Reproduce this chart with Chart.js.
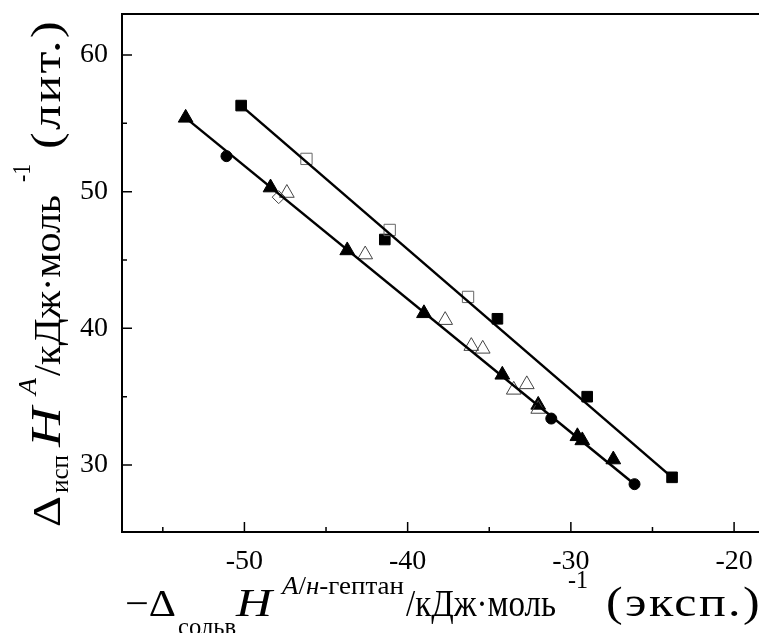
<!DOCTYPE html>
<html>
<head>
<meta charset="utf-8">
<script src="https://cdn.jsdelivr.net/npm/chart.js@4.4.1/dist/chart.umd.min.js"></script>
<style>
  html, body { margin: 0; padding: 0; background: #fff; overflow: hidden; }
  #wrap { width: 790px; height: 633px; position: relative; }
</style>
</head>
<body>
<div id="wrap"><canvas id="chart"></canvas></div>
<script>
/* global Chart */

// filled squares
const sqFilledX = [-50.2, -41.4, -34.5, -29.0, -23.8];
const sqFilledY = [56.3, 46.5, 40.7, 35.0, 29.1];
// open squares
const sqOpenX = [-46.2, -41.1, -36.3];
const sqOpenY = [52.4, 47.2, 42.3];
// filled triangles
const triFilledX = [-53.6, -48.4, -43.7, -39.0, -34.2, -32.0, -29.6, -29.3, -27.4];
const triFilledY = [55.4, 50.3, 45.7, 41.1, 36.6, 34.4, 32.1, 31.8, 30.4];
// open triangles
const triOpenX = [-47.4, -42.6, -37.7, -36.1, -35.4, -33.5, -32.7, -32.0];
const triOpenY = [49.9, 45.4, 40.6, 38.7, 38.5, 35.5, 35.9, 34.1];
// filled circles
const circX = [-51.1, -31.2, -26.1];
const circY = [52.6, 33.4, 28.6];
// open diamonds
const diaX = [-47.9];
const diaY = [49.6];
// fitted lines, end points
const lineAX = [-50.2, -23.8];
const lineAY = [56.3, 29.1];
const lineBX = [-53.6, -26.1];
const lineBY = [55.4, 28.6];

const xTicks = [-50, -40, -30, -20];
const xMinor = [-55, -45, -35, -25];
const yTicks = [30, 40, 50, 60];
const yMinor = [35, 45, 55];

function pts(xs, ys) {
  return xs.map((x, i) => ({ x: x, y: ys[i] }));
}

const SERIF = '"Liberation Serif", "Times New Roman", serif';
const f = (px, it) => (it ? 'italic ' : '') + px + 'px ' + SERIF;

// axis titles: pieces of text, each fitted into its own span
const xTitle = [
  { x: 125, w: 51, runs: [{ text: '−Δ', font: f(38), dy: 0 }] },
  { x: 178, w: 58, runs: [{ text: 'сольв', font: f(26), dy: 19 }] },
  { x: 236, w: 36, runs: [{ text: 'H', font: f(40, true), dy: 0 }] },
  { x: 282, w: 122, runs: [
    { text: 'A', font: f(26, true), dy: -22 },
    { text: '/', font: f(26), dy: -22 },
    { text: 'н', font: f(26, true), dy: -22 },
    { text: '-гептан', font: f(26), dy: -22 },
  ] },
  { x: 406, w: 150, runs: [{ text: '/кДж·моль', font: f(37), dy: 0 }] },
  { x: 568, w: 20, runs: [{ text: '-1', font: f(26), dy: -28 }] },
  { x: 606, w: 156, runs: [{ text: '(эксп.)', font: f(42), dy: 0, ls: '2px' }] },
];

const yTitle = [
  { x: 0, w: 31, runs: [{ text: 'Δ', font: f(40), dy: 0 }] },
  { x: 34, w: 38, runs: [{ text: 'исп', font: f(26), dy: 8 }] },
  { x: 80, w: 40, runs: [{ text: 'H', font: f(42, true), dy: 0 }] },
  { x: 132, w: 17, runs: [{ text: 'A', font: f(26, true), dy: -24 }] },
  { x: 151, w: 181, runs: [{ text: '/кДж·моль', font: f(38), dy: 0 }] },
  { x: 345, w: 18, runs: [{ text: '-1', font: f(26), dy: -30 }] },
  { x: 378, w: 130, runs: [{ text: '(лит.)', font: f(42), dy: 0, ls: '2px' }] },
];

function drawTitle(ctx, segs) {
  segs.forEach(seg => {
    let total = 0;
    seg.runs.forEach(r => {
      ctx.font = r.font;
      ctx.letterSpacing = r.ls || '0px';
      r.w = ctx.measureText(r.text).width;
      total += r.w;
    });
    ctx.save();
    ctx.translate(seg.x, 0);
    ctx.scale(seg.w / total, 1);
    let cx = 0;
    seg.runs.forEach(r => {
      ctx.font = r.font;
      ctx.letterSpacing = r.ls || '0px';
      ctx.fillText(r.text, cx, r.dy);
      cx += r.w;
    });
    ctx.restore();
  });
  ctx.letterSpacing = '0px';
}

const frameTicks = {
  id: 'frameTicks',
  beforeDatasetsDraw(chart) {
    const { ctx, chartArea: a } = chart;
    const x = chart.scales.x;
    const y = chart.scales.y;
    ctx.save();
    ctx.strokeStyle = '#000';
    ctx.lineWidth = 2;
    ctx.strokeRect(a.left, a.top, a.right - a.left, a.bottom - a.top);
    ctx.lineWidth = 1.5;
    ctx.beginPath();
    xTicks.forEach(v => {
      const p = x.getPixelForValue(v);
      ctx.moveTo(p, a.bottom);
      ctx.lineTo(p, a.bottom - 10);
    });
    xMinor.forEach(v => {
      const p = x.getPixelForValue(v);
      ctx.moveTo(p, a.bottom);
      ctx.lineTo(p, a.bottom - 5);
    });
    yTicks.forEach(v => {
      const p = y.getPixelForValue(v);
      ctx.moveTo(a.left, p);
      ctx.lineTo(a.left + 10, p);
    });
    yMinor.forEach(v => {
      const p = y.getPixelForValue(v);
      ctx.moveTo(a.left, p);
      ctx.lineTo(a.left + 5, p);
    });
    ctx.stroke();
    ctx.restore();
  },
  afterDraw(chart) {
    const ctx = chart.ctx;
    ctx.save();
    ctx.fillStyle = '#000';
    ctx.textBaseline = 'alphabetic';
    ctx.textAlign = 'left';
    ctx.translate(0, 616);
    drawTitle(ctx, xTitle);
    ctx.restore();

    ctx.save();
    ctx.fillStyle = '#000';
    ctx.textBaseline = 'alphabetic';
    ctx.textAlign = 'left';
    ctx.translate(60, 527);
    ctx.rotate(-Math.PI / 2);
    drawTitle(ctx, yTitle);
    ctx.restore();
  },
};

const tickFont = { family: SERIF, size: 28 };

new Chart(document.getElementById('chart'), {
  type: 'scatter',
  data: {
    datasets: [
      {
        data: pts(lineAX, lineAY), showLine: true, pointRadius: 0,
        borderColor: '#000', borderWidth: 2.5,
      },
      {
        data: pts(lineBX, lineBY), showLine: true, pointRadius: 0,
        borderColor: '#000', borderWidth: 2.5,
      },
      {
        data: pts(sqOpenX, sqOpenY), pointStyle: 'rect', pointRadius: 8,
        borderColor: '#666', borderWidth: 1, backgroundColor: 'rgba(0,0,0,0)',
      },
      {
        data: pts(triOpenX, triOpenY), pointStyle: 'triangle', pointRadius: 8.5,
        borderColor: '#444', borderWidth: 1, backgroundColor: 'rgba(0,0,0,0)',
      },
      {
        data: pts(diaX, diaY), pointStyle: 'rectRot', pointRadius: 6.5,
        borderColor: '#444', borderWidth: 1, backgroundColor: 'rgba(0,0,0,0)',
      },
      {
        data: pts(sqFilledX, sqFilledY), pointStyle: 'rect', pointRadius: 7.5,
        borderColor: '#000', borderWidth: 1, backgroundColor: '#000',
      },
      {
        data: pts(triFilledX, triFilledY), pointStyle: 'triangle', pointRadius: 8.5,
        borderColor: '#000', borderWidth: 1, backgroundColor: '#000',
      },
      {
        data: pts(circX, circY), pointStyle: 'circle', pointRadius: 5.5,
        borderColor: '#000', borderWidth: 1, backgroundColor: '#000',
      },
    ],
  },
  options: {
    responsive: true,
    maintainAspectRatio: false,
    animation: false,
    layout: { padding: { top: 14, right: 20, left: 0, bottom: 0 } },
    plugins: { legend: { display: false }, tooltip: { enabled: false } },
    scales: {
      x: {
        type: 'linear',
        min: -57.5,
        max: -17.8,
        afterBuildTicks: s => { s.ticks = xTicks.map(v => ({ value: v })); },
        afterFit: s => { s.height = 101; s.paddingLeft = 0; s.paddingRight = 0; },
        grid: { display: false, drawTicks: false },
        border: { display: false },
        ticks: {
          font: tickFont, color: '#000', padding: 13,
          maxRotation: 0, autoSkip: false, callback: v => String(v),
        },
      },
      y: {
        type: 'linear',
        min: 25.1,
        max: 63,
        afterBuildTicks: s => { s.ticks = yTicks.map(v => ({ value: v })); },
        afterFit: s => { s.width = 122; s.paddingTop = 0; s.paddingBottom = 0; },
        grid: { display: false, drawTicks: false },
        border: { display: false },
        ticks: {
          font: tickFont, color: '#000', padding: 14,
          autoSkip: false, callback: v => String(v),
        },
      },
    },
  },
  plugins: [frameTicks],
});
</script>
</body>
</html>
